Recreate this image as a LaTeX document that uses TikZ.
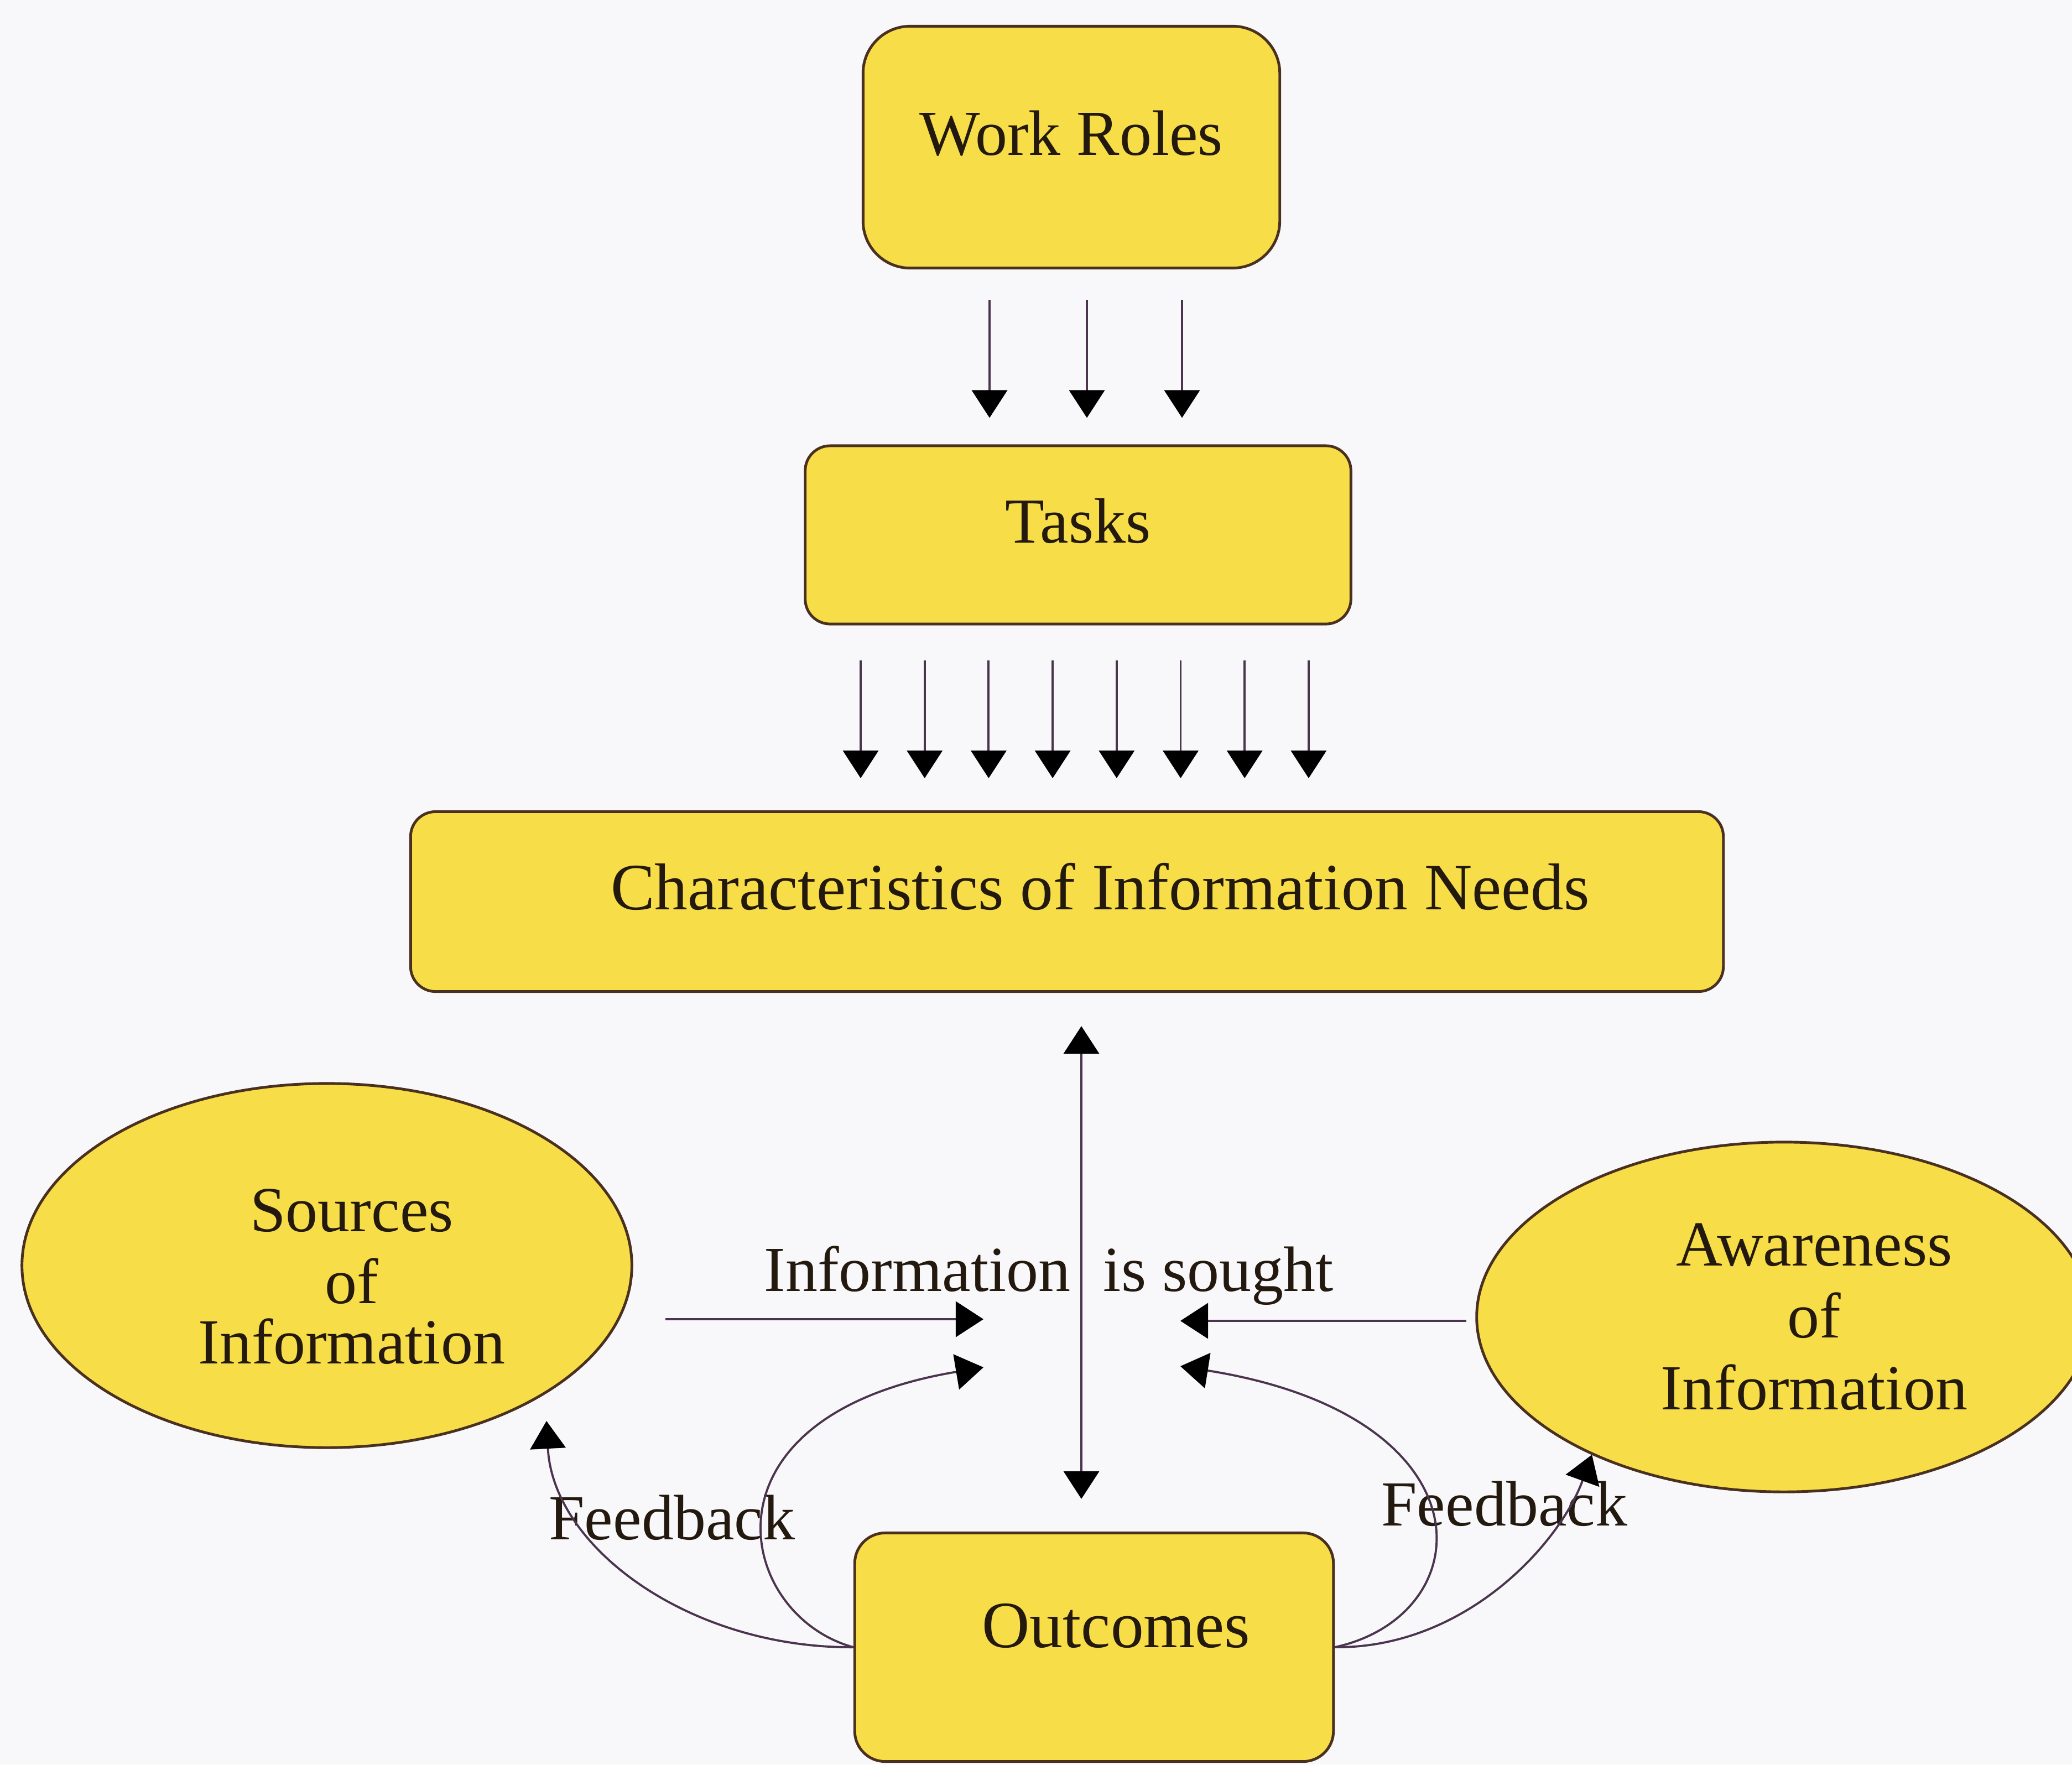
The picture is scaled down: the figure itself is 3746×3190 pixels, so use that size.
\documentclass[tikz,border=0pt]{standalone}
\usepackage{fontspec}
\setmainfont{Liberation Serif}
\usetikzlibrary{arrows.meta,shapes.geometric,calc}
\definecolor{bg}{RGB}{248,248,251}
\definecolor{boxfill}{RGB}{247,221,72}
\definecolor{boxline}{RGB}{74,48,30}
\definecolor{arrline}{RGB}{75,52,78}
\definecolor{txt}{RGB}{35,25,15}
\begin{document}
\begin{tikzpicture}[x=0.01cm,y=-0.01cm,
  every node/.style={text=txt, font=\fontsize{33}{40}\selectfont},
  ybox/.style={draw=boxline, fill=boxfill, line width=1.4pt, rounded corners=#1,
    inner sep=0pt, text height=0.5cm, text depth=0.22cm},
  ybox/.default=0.45cm,
  yell/.style={ellipse, draw=boxline, fill=boxfill, line width=1.4pt, inner sep=0pt},
  lbl/.style={align=center, font=\fontsize{33}{37}\selectfont},
  tipA/.tip={Triangle[width=0.64cm,length=0.5cm,color=black,fill=black]},
  arr/.style={draw=arrline, line width=1.1pt, -tipA},
  arrboth/.style={draw=arrline, line width=1.1pt, tipA-tipA},
]
\useasboundingbox (0,0) rectangle (3746,3190);
\clip (0,0) rectangle (3746,3190);
\fill[bg] (0,0) rectangle (3746,3190);

% boxes
\node[ybox=0.85cm, minimum width=7.53cm, minimum height=4.37cm] (wr) at (1937,266) {Work Roles};
\node[ybox, minimum width=9.86cm, minimum height=3.22cm] (tasks) at (1949,967) {Tasks};
\node[ybox, minimum width=23.72cm, minimum height=3.25cm, font=\fontsize{34}{40}\selectfont] (cin) at (1929,1630) {\hspace*{1.2cm}Characteristics of Information Needs};
\node[ybox=0.55cm, minimum width=8.65cm, minimum height=4.13cm, text height=0pt, text depth=0pt, font=\fontsize{34}{40}\selectfont] (out) at (1978,2978) {\hspace*{0.8cm}Outcomes};

% ellipses
\node[yell, minimum width=11.02cm, minimum height=6.58cm,
  label={[lbl, xshift=0.45cm, yshift=-0.2cm]center:Sources\\of\\[-6pt]Information}] (src) at (591,2288) {};
\node[yell, minimum width=11.1cm, minimum height=6.32cm,
  label={[lbl, xshift=0.55cm]center:Awareness\\of\\Information}] (awa) at (3225,2381) {};

% arrows Work Roles -> Tasks
\foreach \dx in {-148,28,200}
  \draw[arr, shorten <=0.55cm, shorten >=0.48cm]
    ([xshift=\dx*0.01cm]wr.south) -- ([xshift=\dx*0.01cm]wr.south |- tasks.north);

% arrows Tasks -> Characteristics
\foreach \i in {0,...,7}
  \draw[arr, shorten <=0.63cm, shorten >=0.58cm]
    ([xshift={(-393+115.7*\i)*0.01cm}]tasks.south) -- ([xshift={(-393+115.7*\i)*0.01cm}]tasks.south |- cin.north);

% double arrow Characteristics <-> Outcomes
\draw[arrboth, shorten <=0.6cm, shorten >=0.59cm]
  ([xshift=0.26cm]cin.south) -- ([xshift=0.26cm]cin.south |- out.north);

% targets
\coordinate (tL1) at (1778,2385);
\coordinate (tL2) at (1778,2472);
\coordinate (tR1) at (2134,2388);
\coordinate (tR2) at (2134,2470);
\coordinate (fbL) at (988,2569);
\coordinate (fbR) at (2878,2630);

% horizontal arrows
\draw[arr, shorten <=0.58cm] (src.east |- tL1) -- (tL1);
\draw[arr, shorten <=0.16cm] (awa.west |- tR1) -- (tR1);

% labels
\node[anchor=base west] (sought) at (1369,2334) {Information\hspace{0.3cm} is sought};
\node[anchor=base west] (fbLtxt) at (980,2783) {Feedback};
\node[anchor=base west] (fbRtxt) at (2485,2758) {Feedback};

% curved arrows
\draw[arr] (out.west) .. controls (1330,2920) and (1250,2560) .. (tL2);
\draw[arr] (out.west) .. controls (1250,2980) and (1000,2800) .. (fbL);
\draw[arr] (out.east) .. controls (2680,2920) and (2700,2560) .. (tR2);
\draw[arr] (out.east) .. controls (2650,2980) and (2820,2790) .. (fbR);
\end{tikzpicture}
\end{document}
